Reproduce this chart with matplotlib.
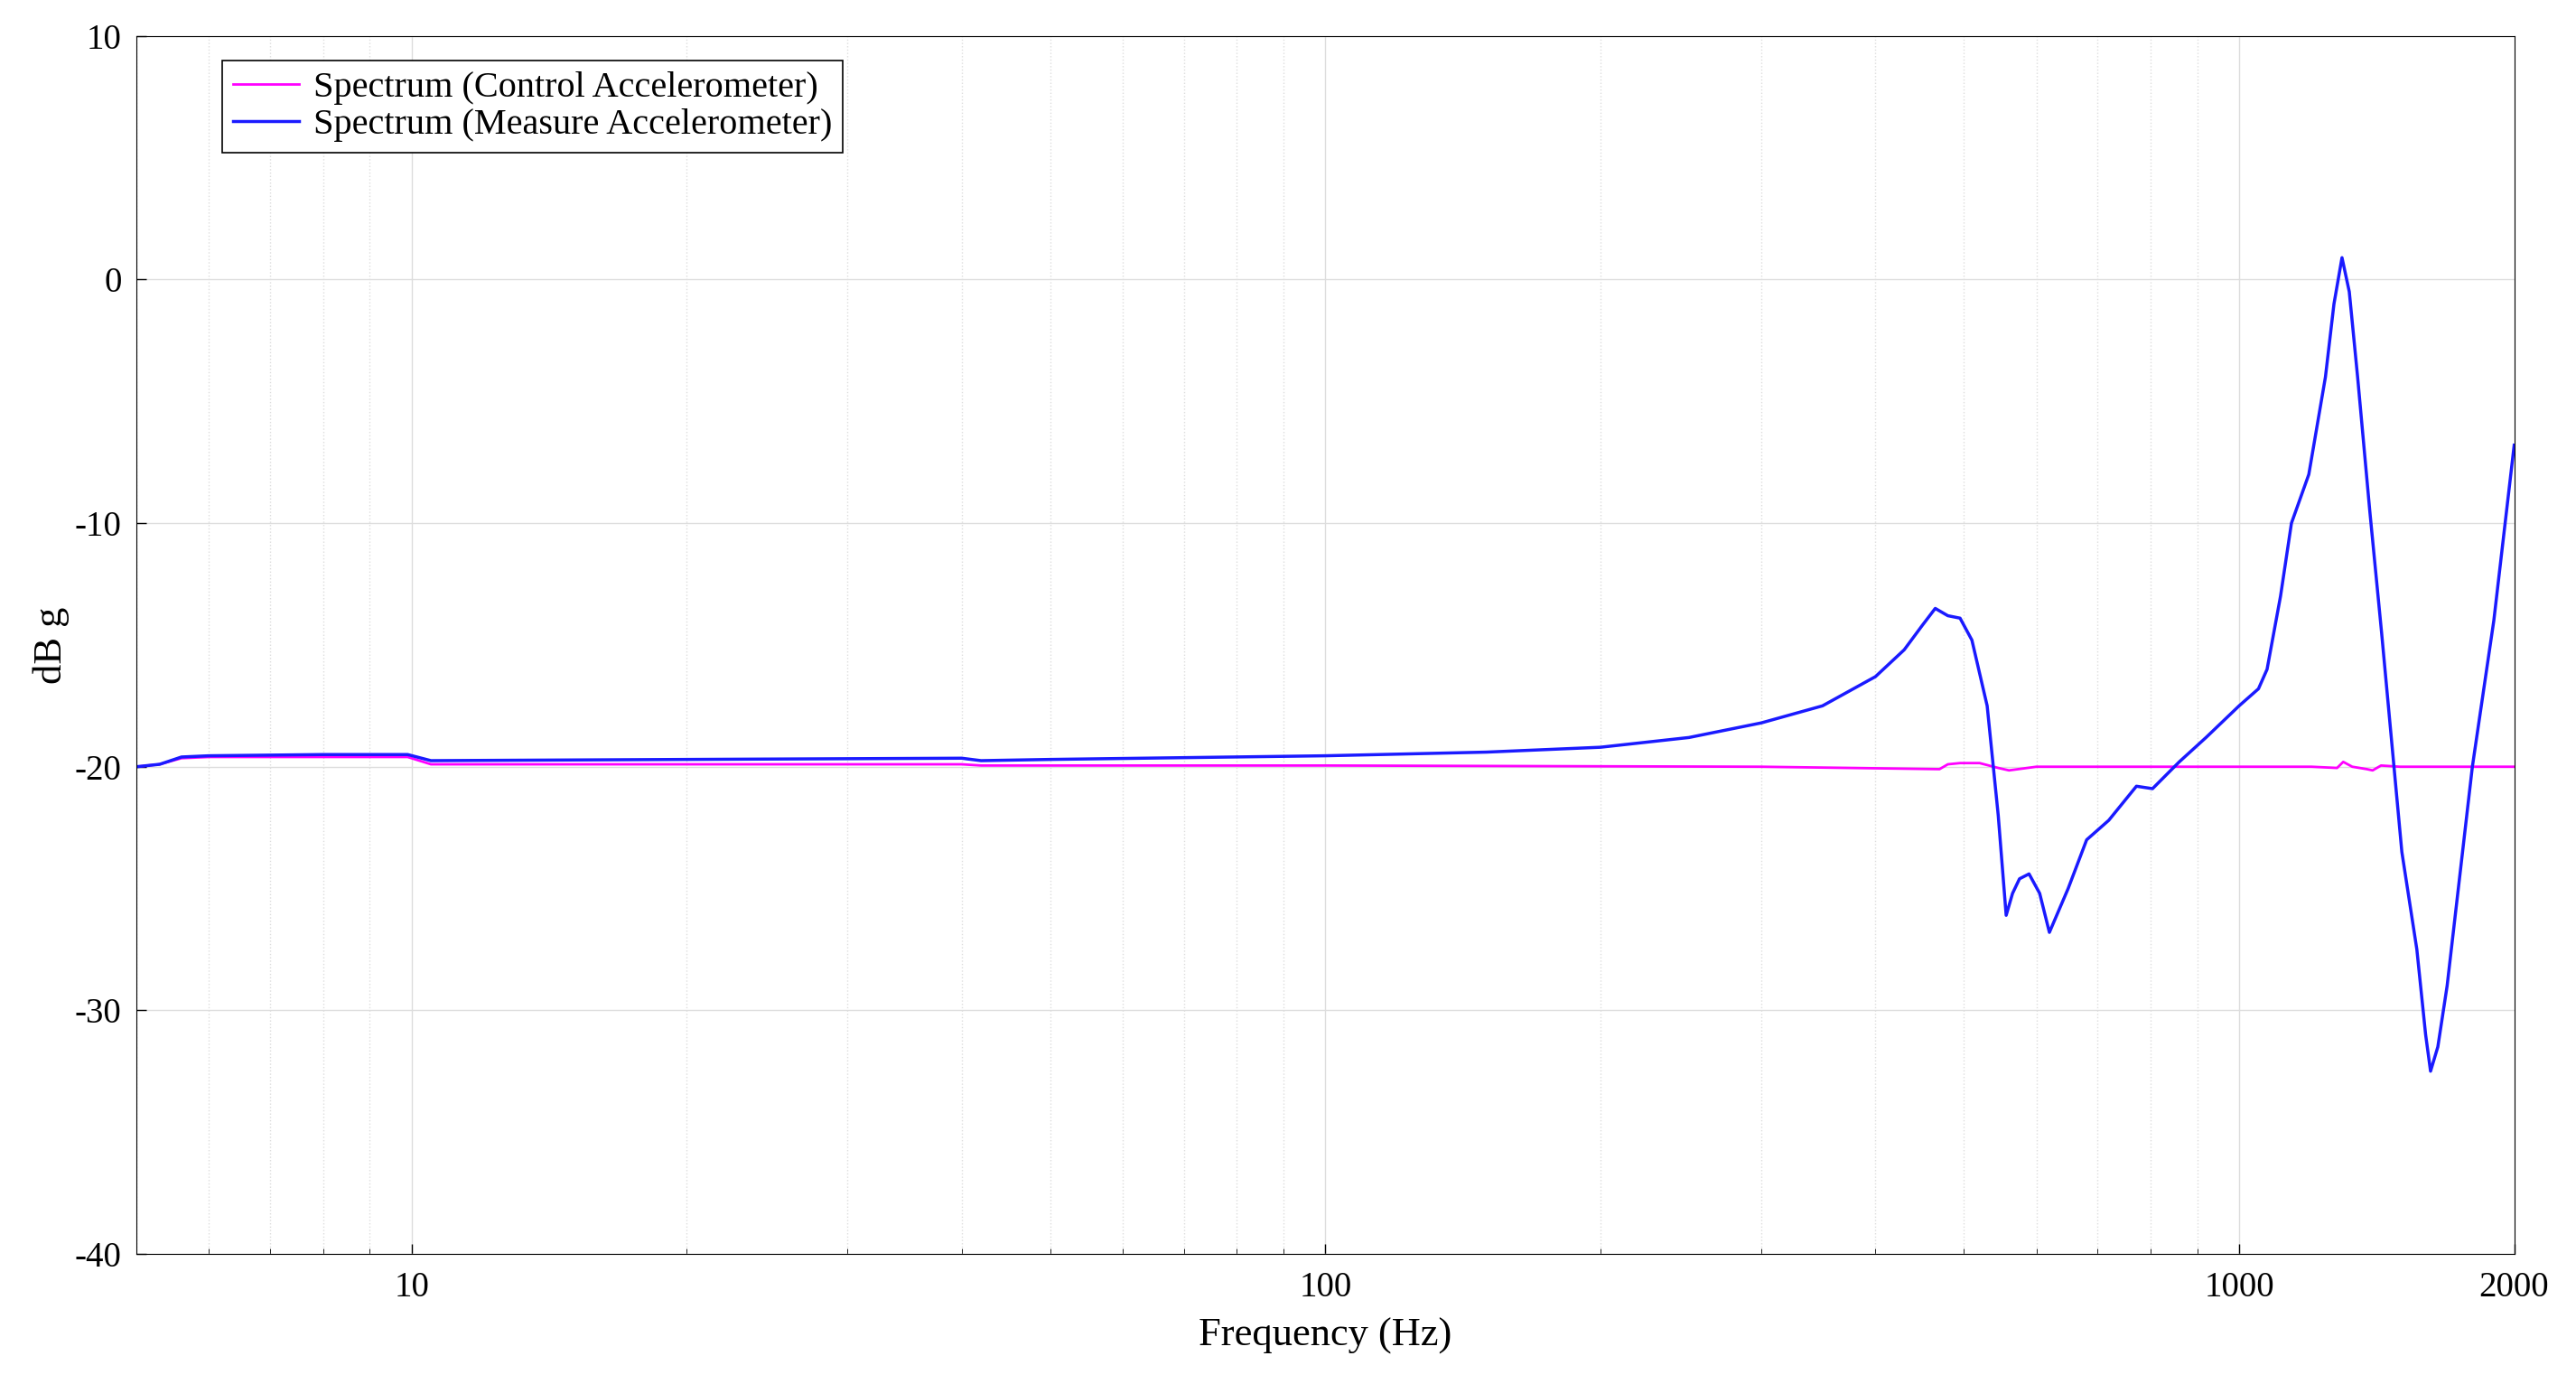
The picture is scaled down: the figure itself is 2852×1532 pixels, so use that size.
import matplotlib
matplotlib.use("Agg")
import matplotlib.pyplot as plt
from matplotlib.ticker import FixedLocator, NullFormatter

freq_measure = [5, 5.3, 5.6, 6, 8, 9.9, 10.5, 20, 40, 42, 50, 100, 150, 200, 250, 300, 350, 400,
                430, 450, 465, 480, 495, 510, 530, 545, 556, 565, 575, 589, 605, 620, 650, 681, 720, 772,
                804, 860, 920, 1000, 1050, 1073, 1110, 1141, 1192, 1243, 1270, 1296, 1320, 1348, 1390,
                1432, 1507, 1565, 1600, 1620, 1650, 1689, 1800, 1900, 2000]
db_measure = [-20, -19.9, -19.6, -19.55, -19.5, -19.5, -19.75, -19.7, -19.65, -19.75, -19.7,
              -19.55, -19.4, -19.2, -18.8, -18.2, -17.5, -16.3, -15.2, -14.2, -13.5, -13.8,
              -13.9, -14.8, -17.5, -22.0, -26.1, -25.2, -24.6, -24.4, -25.2, -26.8, -25.0, -23.0, -22.2,
              -20.8, -20.9, -19.8, -18.8, -17.5, -16.8, -16.0, -13.0, -10.0, -8.0, -4.0, -1.0, 0.9,
              -0.5, -4.0, -9.5, -14.5, -23.5, -27.5, -31.0, -32.5, -31.5, -29.0, -20.0, -14.0, -6.8]
freq_control = [5, 5.3, 5.6, 6, 8, 9.9, 10.5, 20, 40, 42, 100, 300, 470, 480, 495, 520, 545, 560,
                600, 900, 1200, 1280, 1300, 1330, 1380, 1400, 1430, 1500, 2000]
db_control = [-20, -19.9, -19.65, -19.6, -19.6, -19.6, -19.9, -19.9, -19.9, -19.95, -19.95, -20,
              -20.1, -19.9, -19.85, -19.85, -20.05, -20.15, -20, -20, -20, -20.05, -19.8, -20,
              -20.1, -20.15, -19.95, -20, -20]

plt.rcParams['font.family'] = ['Liberation Serif', 'DejaVu Serif']
plt.rcParams['axes.unicode_minus'] = False
fig = plt.figure(figsize=(28.52, 15.32), dpi=100)
ax = fig.add_axes([0.053, 0.094, 0.923, 0.880])
ax.plot(freq_control, db_control, color='#ff00ff', lw=2, label='Spectrum (Control Accelerometer)')
ax.plot(freq_measure, db_measure, color='#1a1aff', lw=2.5, label='Spectrum (Measure Accelerometer)')
ax.set_xscale('log')
ax.set_xlim(5, 2000)
ax.set_ylim(-40, 10)
ax.xaxis.set_major_locator(FixedLocator([10, 100, 1000, 2000]))
ax.set_xticklabels(['10', '100', '1000', '2000'])
ax.xaxis.set_minor_formatter(NullFormatter())
ax.set_yticks([-40, -30, -20, -10, 0, 10])
ax.tick_params(direction='in', labelsize=28, length=8, width=1)
ax.tick_params(axis='x', pad=14)
ax.tick_params(axis='y', pad=12)
ax.tick_params(which='minor', direction='in', length=4)
ax.grid(True, which='major', color='#dddddd', lw=1)
ax.grid(True, which='minor', color='#dddddd', lw=1, ls=':')
ax.set_xlabel('Frequency (Hz)', fontsize=32, labelpad=10)
ax.set_ylabel('dB g', fontsize=32)
leg = ax.legend(loc='upper left', fontsize=29, fancybox=False, edgecolor='black',
                framealpha=1, bbox_to_anchor=(0.036, 0.98), borderaxespad=0,
                handlelength=1.8, borderpad=0.3, labelspacing=0.1, handletextpad=0.4)
leg.get_frame().set_linewidth(1.2)
fig.savefig('out.png', dpi=100)
